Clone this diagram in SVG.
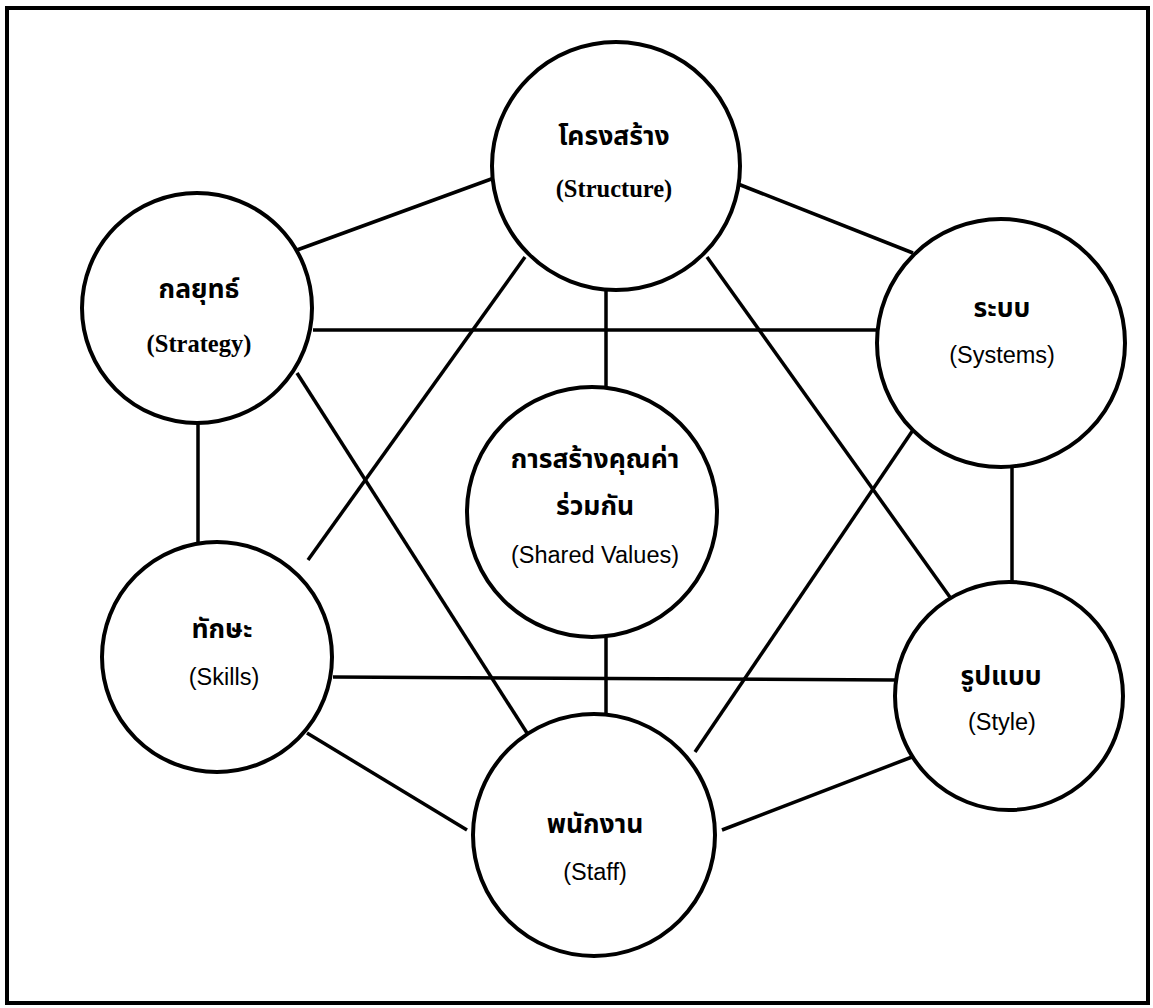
<svg xmlns="http://www.w3.org/2000/svg" width="1153" height="1008" viewBox="0 0 1153 1008">
<style>
.frame{fill:#fff;stroke:#000;stroke-width:4}
.node{fill:#fff;stroke:#000;stroke-width:4}
.edge{stroke:#000;stroke-width:3.5;fill:none}
.th{font-family:"Noto Sans Thai","Noto Serif Thai","Garuda","Loma","Noto Sans",sans-serif;font-weight:bold;font-size:26.5px;text-anchor:middle;fill:#000}
.en-serif{font-family:"Liberation Serif","Times New Roman",serif;font-weight:bold;font-size:24.5px;text-anchor:middle;fill:#000}
.en-sans{font-family:"Liberation Sans",Arial,sans-serif;font-size:23.5px;text-anchor:middle;fill:#000}
</style>
<rect class="frame" x="7" y="8" width="1141" height="995"/>
<g id="connectors">
<line class="edge" x1="297" y1="250" x2="494" y2="178"/>
<line class="edge" x1="738" y1="184" x2="913" y2="253"/>
<line class="edge" x1="313" y1="330" x2="877" y2="330"/>
<line class="edge" x1="198" y1="423" x2="198" y2="542"/>
<line class="edge" x1="1012" y1="467" x2="1012" y2="582"/>
<line class="edge" x1="333" y1="677" x2="895" y2="680"/>
<line class="edge" x1="307" y1="733" x2="467" y2="830"/>
<line class="edge" x1="722" y1="830" x2="912" y2="757"/>
<line class="edge" x1="606" y1="290" x2="606" y2="388"/>
<line class="edge" x1="606" y1="637" x2="606" y2="716"/>
<line class="edge" x1="525" y1="257" x2="308" y2="560"/>
<line class="edge" x1="707" y1="257" x2="952" y2="600"/>
<line class="edge" x1="297" y1="373" x2="527" y2="733"/>
<line class="edge" x1="913" y1="430" x2="695" y2="752"/>
</g>
<g id="structure">
<circle class="node" cx="616" cy="166" r="124"/>
<text class="th" x="614" y="145">โครงสร้าง</text>
<text class="en-serif" x="614" y="197">(Structure)</text>
</g>
<g id="strategy">
<circle class="node" cx="197" cy="308" r="115"/>
<text class="th" x="199" y="298">กลยุทธ์</text>
<text class="en-serif" x="199" y="352">(Strategy)</text>
</g>
<g id="systems">
<circle class="node" cx="1001" cy="343" r="124"/>
<text class="th" x="1002" y="317">ระบบ</text>
<text class="en-sans" x="1002" y="363">(Systems)</text>
</g>
<g id="shared-values">
<circle class="node" cx="592" cy="512" r="125"/>
<text class="th" x="595" y="468">การสร้างคุณค่า</text>
<text class="th" x="595" y="515">ร่วมกัน</text>
<text class="en-sans" x="595" y="563">(Shared Values)</text>
</g>
<g id="skills">
<circle class="node" cx="217" cy="657" r="115"/>
<text class="th" x="222" y="638">ทักษะ</text>
<text class="en-sans" x="224" y="685">(Skills)</text>
</g>
<g id="style">
<circle class="node" cx="1009" cy="696" r="114"/>
<text class="th" x="1001" y="685">รูปแบบ</text>
<text class="en-sans" x="1002" y="730">(Style)</text>
</g>
<g id="staff">
<circle class="node" cx="594" cy="835" r="121"/>
<text class="th" x="595" y="833">พนักงาน</text>
<text class="en-sans" x="595" y="880">(Staff)</text>
</g>
</svg>
